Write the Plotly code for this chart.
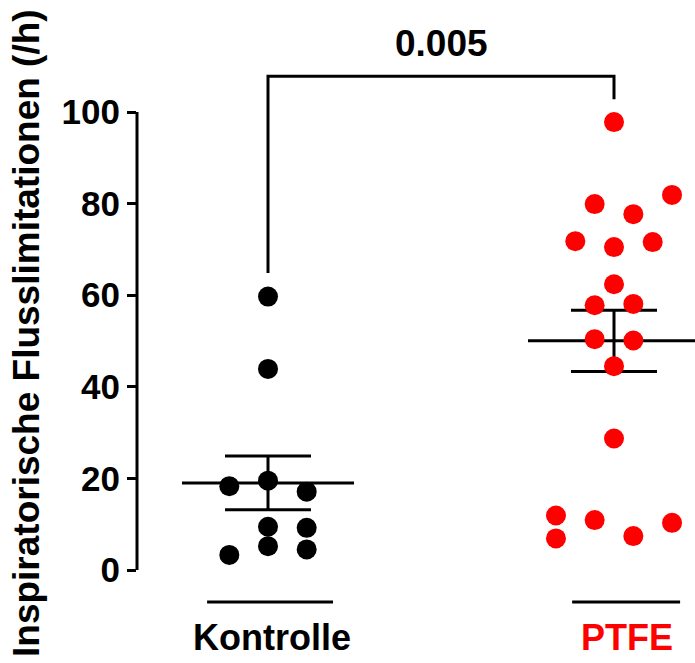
import numpy as np
import plotly.graph_objects as go

# ---- data ----
groups = ["Kontrolle", "PTFE"]
kontrolle = [59.7, 43.9, 18.3, 19.5, 17.1, 9.45, 9.2, 5.2, 4.5, 3.3]
ptfe = [97.8, 81.9, 79.9, 77.7, 71.8, 71.6, 70.5, 62.4, 57.8, 58.1,
        50.4, 50.1, 44.5, 28.7, 11.9, 10.9, 10.3, 6.9, 7.4]
p_value_text = "0.005"
y_ticks = [0, 20, 40, 60, 80, 100]

# swarm column slots (layout only)
kontrolle_slots = [0, 0, -2, 0, 2, 0, 2, 0, 2, -2]
ptfe_slots = [0, 3, -1, 1, -2, 2, 0, 0, -1, 1, -1, 1, 0, 0, -3, -1, 3, -3, 1]

colors = ["#000000", "#FF0000"]
FONT = "Liberation Sans, Arial, sans-serif"
SLOT = 0.0559
gpos = [1, 2]

fig = go.Figure()

series = [kontrolle, ptfe]
slots = [kontrolle_slots, ptfe_slots]

# error bars (mean +/- SEM) drawn first
for i, vals in enumerate(series):
    v = np.array(vals)
    m = v.mean()
    sem = v.std(ddof=1) / np.sqrt(len(v))
    c = gpos[i]
    fig.add_trace(go.Scatter(
        x=[c - 0.2486, c + 0.2486], y=[m, m], mode="lines",
        line=dict(color="black", width=3), showlegend=False, hoverinfo="skip"))
    fig.add_trace(go.Scatter(
        x=[c], y=[m], mode="markers", marker=dict(size=1, opacity=0),
        error_y=dict(type="data", array=[sem], visible=True, color="black",
                     thickness=3, width=43),
        showlegend=False, hoverinfo="skip"))

# points
for i, vals in enumerate(series):
    xs = [gpos[i] + s * SLOT for s in slots[i]]
    fig.add_trace(go.Scatter(
        x=xs, y=vals, mode="markers",
        marker=dict(size=20, color=colors[i], line=dict(width=0)),
        name=groups[i], showlegend=False))

# y axis line
fig.add_shape(type="line", xref="paper", x0=0, x1=0, yref="y", y0=0, y1=100,
              line=dict(color="black", width=3))

# category baseline segments
fig.add_shape(type="line", x0=gpos[0] - 0.176, x1=gpos[0] + 0.188, y0=-7.0, y1=-7.0,
              line=dict(color="black", width=3))
fig.add_shape(type="line", x0=gpos[1] - 0.121, x1=gpos[1] + 0.191, y0=-7.0, y1=-7.0,
              line=dict(color="black", width=3))

# significance bracket
fig.add_trace(go.Scatter(
    x=[gpos[0], gpos[0], gpos[1], gpos[1]], y=[64.85, 107.8, 107.8, 102.8],
    mode="lines", line=dict(color="black", width=3), showlegend=False,
    hoverinfo="skip"))
fig.add_annotation(x=(gpos[0] + gpos[1]) / 2, y=115.0, text=p_value_text,
                   showarrow=False, xanchor="center", yanchor="middle",
                   font=dict(family=FONT, size=37, color="black", weight="bold"))

# category labels
fig.add_annotation(x=gpos[0] + 0.012, y=-14.8, text=groups[0], showarrow=False,
                   xanchor="center", yanchor="middle",
                   font=dict(family=FONT, size=36, color=colors[0], weight="bold"))
fig.add_annotation(x=gpos[1] + 0.037, y=-14.8, text=groups[1], showarrow=False,
                   xanchor="center", yanchor="middle",
                   font=dict(family=FONT, size=36, color=colors[1], weight="bold"))

# y title
fig.add_annotation(xref="paper", yref="paper", x=-0.199, y=0.4977,
                   text="Inspiratorische Flusslimitationen (/h)", textangle=-90,
                   showarrow=False, xanchor="center", yanchor="middle",
                   font=dict(family=FONT, size=37, color="black", weight="bold"))

fig.update_layout(
    width=695, height=663,
    margin=dict(l=137, r=0, t=0, b=0),
    plot_bgcolor="white", paper_bgcolor="white",
    xaxis=dict(range=[0.62139, 2.23410], visible=False, fixedrange=True),
    yaxis=dict(range=[-20.306, 124.454], tickvals=y_ticks,
               ticktext=[str(t) for t in y_ticks],
               ticks="outside", ticklen=9, tickwidth=3, tickcolor="black",
               showline=False, showgrid=False, zeroline=False,
               tickfont=dict(family=FONT, size=35, color="black", weight="bold"),
               ticklabelstandoff=0),
    showlegend=False,
)

fig.write_html("out.html")
